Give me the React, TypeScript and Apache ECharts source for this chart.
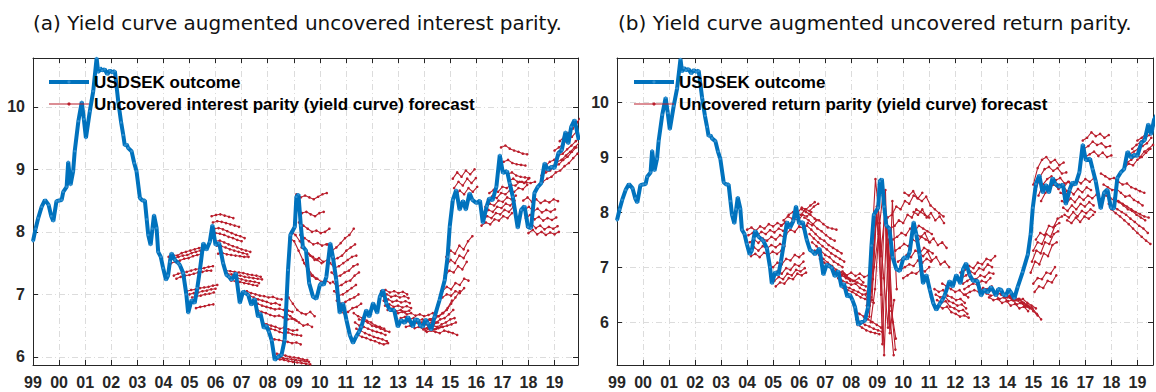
import React, { useEffect, useRef } from "react";
import * as echarts from "echarts";

// Monthly-ish USDSEK outcome: [year, SEK per USD]
const usdsekOutcome: [number, number][] = [
  [1999.0, 7.85], [1999.1, 8.05], [1999.2, 8.22], [1999.33, 8.4], [1999.46, 8.51], [1999.6, 8.43],
  [1999.7, 8.25], [1999.78, 8.17], [1999.9, 8.49], [2000.0, 8.5], [2000.1, 8.51], [2000.16, 8.64],
  [2000.29, 8.72], [2000.35, 9.12], [2000.44, 8.75], [2000.54, 8.97], [2000.6, 9.29], [2000.74, 9.77],
  [2000.87, 10.08], [2000.95, 9.8], [2001.03, 9.5], [2001.18, 9.93], [2001.31, 10.25], [2001.44, 10.78],
  [2001.5, 10.55], [2001.57, 10.62], [2001.65, 10.58], [2001.75, 10.6], [2001.85, 10.52], [2001.95, 10.58],
  [2002.05, 10.55], [2002.14, 10.57], [2002.27, 10.08], [2002.38, 9.75], [2002.46, 9.55], [2002.52, 9.38],
  [2002.59, 9.4], [2002.65, 9.34], [2002.78, 9.29], [2002.88, 9.1], [2002.97, 8.97], [2003.1, 8.54],
  [2003.2, 8.5], [2003.29, 8.5], [2003.36, 8.2], [2003.42, 7.95], [2003.51, 7.79], [2003.58, 8.05],
  [2003.64, 8.27], [2003.74, 8.06], [2003.8, 7.68], [2003.9, 7.6], [2003.99, 7.42], [2004.1, 7.23],
  [2004.18, 7.3], [2004.25, 7.52], [2004.31, 7.66], [2004.44, 7.55], [2004.57, 7.5], [2004.63, 7.47],
  [2004.76, 7.34], [2004.88, 7.0], [2004.95, 6.7], [2005.08, 6.91], [2005.2, 6.86], [2005.3, 7.1],
  [2005.4, 7.39], [2005.53, 7.82], [2005.65, 7.71], [2005.78, 7.84], [2005.88, 8.11], [2006.0, 7.79],
  [2006.14, 7.82], [2006.29, 7.5], [2006.42, 7.31], [2006.52, 7.28], [2006.61, 7.23], [2006.78, 7.34],
  [2006.93, 6.86], [2007.06, 7.05], [2007.15, 7.02], [2007.25, 6.99], [2007.37, 6.83], [2007.5, 6.93],
  [2007.63, 6.64], [2007.72, 6.7], [2007.85, 6.46], [2007.95, 6.5], [2008.05, 6.4], [2008.15, 6.27],
  [2008.27, 5.95], [2008.4, 6.0], [2008.53, 6.03], [2008.65, 6.27], [2008.78, 7.39], [2008.87, 7.95],
  [2009.04, 8.08], [2009.1, 8.56], [2009.18, 8.6], [2009.27, 8.1], [2009.35, 7.76], [2009.47, 7.7],
  [2009.59, 7.18], [2009.74, 6.96], [2009.87, 6.93], [2010.0, 7.15], [2010.06, 7.18], [2010.15, 7.15],
  [2010.25, 7.28], [2010.4, 7.82], [2010.5, 7.6], [2010.63, 7.23], [2010.76, 6.7], [2010.89, 6.86],
  [2011.02, 6.59], [2011.15, 6.35], [2011.27, 6.22], [2011.4, 6.33], [2011.5, 6.4], [2011.59, 6.48],
  [2011.78, 6.75], [2011.9, 6.64], [2012.04, 6.86], [2012.2, 6.7], [2012.3, 6.96], [2012.42, 7.07],
  [2012.55, 6.86], [2012.68, 6.75], [2012.85, 6.75], [2012.99, 6.48], [2013.12, 6.59], [2013.25, 6.54],
  [2013.38, 6.64], [2013.57, 6.48], [2013.65, 6.6], [2013.76, 6.59], [2013.85, 6.5], [2013.95, 6.48],
  [2014.05, 6.6], [2014.14, 6.54], [2014.27, 6.43], [2014.4, 6.64], [2014.59, 6.91], [2014.79, 7.23],
  [2014.9, 7.6], [2014.98, 8.08], [2015.1, 8.51], [2015.23, 8.67], [2015.36, 8.35], [2015.49, 8.5],
  [2015.6, 8.35], [2015.74, 8.62], [2015.85, 8.51], [2016.0, 8.46], [2016.14, 8.5], [2016.25, 8.14],
  [2016.4, 8.41], [2016.5, 8.54], [2016.62, 8.5], [2016.77, 8.72], [2016.9, 9.23], [2017.02, 8.94],
  [2017.18, 8.97], [2017.28, 8.78], [2017.4, 8.56], [2017.59, 8.06], [2017.72, 8.35], [2017.85, 8.41],
  [2017.98, 8.08], [2018.1, 8.06], [2018.23, 8.62], [2018.36, 8.72], [2018.49, 8.78], [2018.62, 9.1],
  [2018.75, 8.99], [2018.88, 9.04], [2019.0, 9.02], [2019.15, 9.26], [2019.28, 9.31], [2019.42, 9.6],
  [2019.53, 9.41], [2019.64, 9.68], [2019.77, 9.79], [2019.93, 9.47],
];

// Forecast paths: [start year, value, value, ...], one value every FORECAST_STEP years
const FORECAST_STEP = 1 / 6;

const uipForecasts: number[][] = [
  [2004.2, 7.6, 7.63, 7.62, 7.66, 7.68, 7.7, 7.72, 7.74, 7.75],
  [2004.25, 7.55, 7.57, 7.6, 7.62, 7.63, 7.66, 7.68, 7.7],
  [2004.3, 7.5, 7.52, 7.54, 7.57, 7.58, 7.61, 7.63, 7.65],
  [2004.4, 7.3, 7.33, 7.35, 7.36, 7.38, 7.4, 7.41, 7.42, 7.44, 7.45],
  [2004.5, 7.25, 7.28, 7.3, 7.31, 7.33, 7.35, 7.36, 7.38, 7.38],
  [2004.9, 7.05, 7.07, 7.08, 7.1, 7.11, 7.12, 7.14, 7.15],
  [2005.0, 7.0, 7.02, 7.03, 7.05, 7.06, 7.08, 7.09],
  [2005.1, 6.95, 6.97, 6.98, 7.0, 7.01, 7.03],
  [2005.25, 6.78, 6.8, 6.81, 6.83, 6.84],
  [2005.85, 8.25, 8.27, 8.28, 8.26, 8.24, 8.22],
  [2005.9, 8.15, 8.17, 8.16, 8.14, 8.12, 8.1, 8.08],
  [2005.95, 8.05, 8.06, 8.04, 8.01, 7.98, 7.95, 7.93, 7.9],
  [2006.0, 7.98, 7.97, 7.95, 7.92, 7.9, 7.87, 7.85],
  [2006.0, 7.85, 7.86, 7.83, 7.8, 7.77, 7.75, 7.72, 7.7, 7.68],
  [2006.05, 7.78, 7.77, 7.75, 7.72, 7.7, 7.68, 7.66, 7.64],
  [2006.1, 7.65, 7.66, 7.64, 7.63, 7.62, 7.61, 7.6, 7.6],
  [2006.4, 7.38, 7.37, 7.36, 7.35, 7.34, 7.32, 7.31, 7.3, 7.28],
  [2006.45, 7.33, 7.32, 7.31, 7.3, 7.28, 7.27, 7.26, 7.25, 7.24],
  [2006.5, 7.28, 7.27, 7.26, 7.24, 7.22, 7.21, 7.2, 7.18],
  [2006.6, 7.22, 7.21, 7.2, 7.18, 7.17, 7.15, 7.14],
  [2007.2, 7.05, 7.02, 7.0, 6.98, 6.97, 6.95, 6.96, 6.93, 6.92],
  [2007.3, 6.98, 6.95, 6.92, 6.9, 6.88, 6.85, 6.86, 6.83],
  [2007.45, 6.88, 6.85, 6.82, 6.8, 6.78, 6.76, 6.77, 6.75, 6.74, 6.72],
  [2007.6, 6.75, 6.72, 6.7, 6.67, 6.65, 6.66, 6.63, 6.6, 6.61, 6.58],
  [2007.8, 6.55, 6.52, 6.5, 6.48, 6.45, 6.47, 6.44, 6.42, 6.43],
  [2007.95, 6.48, 6.45, 6.43, 6.4, 6.38, 6.39, 6.36, 6.35, 6.34],
  [2008.1, 6.3, 6.28, 6.27, 6.25, 6.24, 6.22, 6.23, 6.2],
  [2008.25, 6.02, 6.0, 5.98, 5.97, 5.96, 5.95, 5.94, 5.93, 5.92],
  [2008.3, 5.97, 5.96, 5.95, 5.93, 5.92, 5.91, 5.9, 5.89, 5.88],
  [2008.35, 6.05, 6.04, 6.02, 6.0, 5.99, 5.98, 5.96, 5.95],
  [2008.7, 6.7, 6.65, 6.6, 6.55, 6.5, 6.52, 6.48],
  [2008.8, 6.95, 6.85, 6.75, 6.7, 6.68, 6.72, 6.65],
  [2008.85, 7.9, 7.85, 7.7, 7.55, 7.4, 7.3, 7.25],
  [2008.9, 8.0, 7.95, 7.85, 7.75, 7.65, 7.6, 7.55, 7.5],
  [2009.1, 8.6, 8.55, 8.58, 8.55, 8.52, 8.56, 8.6, 8.62],
  [2009.15, 8.35, 8.3, 8.32, 8.28, 8.25, 8.3, 8.32],
  [2009.2, 8.15, 8.1, 8.05, 8.0, 8.02, 7.98, 8.0, 8.05],
  [2009.25, 7.95, 7.9, 7.85, 7.8, 7.82, 7.78, 7.8],
  [2009.3, 7.75, 7.7, 7.62, 7.55, 7.58, 7.52, 7.55],
  [2009.4, 7.5, 7.4, 7.3, 7.25, 7.2, 7.22, 7.18],
  [2010.3, 7.8, 7.7, 7.75, 7.82, 7.9, 7.95, 8.05],
  [2010.35, 7.65, 7.55, 7.58, 7.62, 7.7, 7.75, 7.8],
  [2010.4, 7.5, 7.42, 7.45, 7.5, 7.55, 7.6, 7.62],
  [2010.45, 7.35, 7.28, 7.3, 7.35, 7.38, 7.45, 7.48],
  [2010.5, 7.2, 7.12, 7.15, 7.2, 7.22, 7.3, 7.35],
  [2010.55, 7.05, 6.98, 7.0, 7.05, 7.1, 7.15],
  [2010.65, 6.9, 6.85, 6.88, 6.92, 6.95, 7.0],
  [2010.75, 6.75, 6.7, 6.72, 6.78, 6.8, 6.85],
  [2011.3, 6.7, 6.65, 6.62, 6.58, 6.55, 6.5, 6.48, 6.45],
  [2011.35, 6.55, 6.5, 6.48, 6.45, 6.42, 6.4, 6.38, 6.35],
  [2011.4, 6.45, 6.42, 6.38, 6.35, 6.32, 6.3, 6.28, 6.25],
  [2011.45, 6.35, 6.32, 6.3, 6.27, 6.25, 6.22, 6.2, 6.22],
  [2011.5, 6.6, 6.58, 6.55, 6.5, 6.48, 6.45, 6.42, 6.4],
  [2012.35, 7.05, 7.07, 7.03, 7.05, 7.02, 7.04, 7.0],
  [2012.4, 6.98, 7.0, 6.96, 6.98, 6.95, 6.97, 6.94],
  [2012.45, 6.9, 6.92, 6.88, 6.9, 6.87, 6.89, 6.86],
  [2012.5, 6.82, 6.84, 6.8, 6.82, 6.79, 6.81, 6.78],
  [2012.6, 6.75, 6.77, 6.73, 6.75, 6.72, 6.74],
  [2013.0, 6.7, 6.72, 6.68, 6.7, 6.66, 6.68, 6.65, 6.67, 6.7],
  [2013.1, 6.62, 6.64, 6.6, 6.62, 6.58, 6.6, 6.57, 6.59, 6.62],
  [2013.2, 6.55, 6.57, 6.53, 6.55, 6.51, 6.53, 6.5, 6.52, 6.55],
  [2013.3, 6.48, 6.5, 6.46, 6.48, 6.44, 6.46, 6.43, 6.45, 6.48],
  [2013.9, 6.55, 6.58, 6.6, 6.62, 6.65, 6.7, 6.78, 6.9],
  [2013.95, 6.5, 6.52, 6.55, 6.55, 6.6, 6.62, 6.68, 6.75],
  [2014.0, 6.45, 6.48, 6.5, 6.48, 6.52, 6.55, 6.6, 6.62],
  [2014.05, 6.42, 6.45, 6.44, 6.46, 6.48, 6.5, 6.52, 6.55],
  [2014.1, 6.4, 6.42, 6.4, 6.38, 6.42, 6.4, 6.38, 6.35],
  [2014.2, 6.6, 6.62, 6.65, 6.7, 6.75, 6.85, 6.95, 7.05],
  [2014.85, 7.6, 7.7, 7.65, 7.78, 7.72, 7.85, 7.93],
  [2014.85, 7.45, 7.55, 7.5, 7.62, 7.58, 7.7],
  [2014.8, 7.3, 7.38, 7.35, 7.45, 7.4, 7.52],
  [2014.7, 7.05, 7.12, 7.08, 7.18, 7.15, 7.25, 7.22],
  [2014.7, 6.95, 7.0, 6.98, 7.05, 7.02, 7.1],
  [2015.1, 8.85, 8.95, 8.88, 8.98, 8.92, 9.0],
  [2015.15, 8.7, 8.8, 8.74, 8.85, 8.78, 8.86],
  [2015.2, 8.58, 8.66, 8.6, 8.7, 8.64, 8.72],
  [2016.2, 8.1, 8.15, 8.12, 8.2, 8.18, 8.25, 8.22, 8.3],
  [2016.25, 8.2, 8.25, 8.22, 8.3, 8.28, 8.35, 8.32, 8.4],
  [2016.3, 8.3, 8.35, 8.32, 8.4, 8.38, 8.45, 8.42, 8.5],
  [2016.35, 8.4, 8.45, 8.42, 8.5, 8.48, 8.55, 8.52, 8.58],
  [2016.45, 8.52, 8.57, 8.54, 8.62, 8.6, 8.66, 8.64, 8.7, 8.68, 8.75],
  [2016.5, 8.62, 8.67, 8.64, 8.72, 8.7, 8.75, 8.74, 8.8, 8.78, 8.85],
  [2016.95, 9.35, 9.38, 9.33, 9.3, 9.28, 9.25, 9.24],
  [2017.05, 9.12, 9.15, 9.1, 9.08, 9.07, 9.06],
  [2017.2, 8.92, 8.95, 8.9, 8.88, 8.87, 8.86],
  [2017.25, 8.82, 8.85, 8.8, 8.8, 8.79, 8.78, 8.8],
  [2017.8, 8.5, 8.55, 8.48, 8.52, 8.46, 8.5, 8.47, 8.52, 8.49],
  [2017.85, 8.35, 8.4, 8.33, 8.37, 8.31, 8.35, 8.32, 8.36],
  [2017.9, 8.22, 8.27, 8.2, 8.24, 8.18, 8.22, 8.19, 8.23],
  [2017.95, 8.08, 8.13, 8.06, 8.1, 8.04, 8.08, 8.05, 8.09],
  [2018.0, 7.98, 8.03, 7.96, 8.0, 7.95, 7.99, 7.96, 8.0],
  [2018.5, 8.9, 8.95, 8.98, 9.05, 9.08, 9.15, 9.2, 9.28, 9.35],
  [2018.55, 8.8, 8.85, 8.88, 8.95, 8.98, 9.05, 9.1, 9.18, 9.25],
  [2018.6, 8.95, 9.02, 9.05, 9.12, 9.15, 9.22, 9.28, 9.35, 9.42],
  [2018.65, 9.05, 9.12, 9.15, 9.22, 9.25, 9.32, 9.38, 9.45, 9.5],
  [2019.0, 9.3, 9.35, 9.4, 9.48, 9.52, 9.6],
  [2019.2, 9.45, 9.52, 9.58, 9.65, 9.75, 9.85],
];

const urpForecasts: number[][] = [
  [2004.0, 7.68, 7.72, 7.66, 7.74, 7.7, 7.78, 7.74, 7.8, 7.76, 7.82],
  [2004.05, 7.58, 7.62, 7.57, 7.64, 7.6, 7.67, 7.63, 7.7, 7.66],
  [2004.1, 7.45, 7.5, 7.44, 7.52, 7.48, 7.55, 7.5, 7.58, 7.54],
  [2004.1, 7.32, 7.36, 7.3, 7.38, 7.34, 7.4, 7.36, 7.42, 7.38],
  [2004.15, 7.2, 7.24, 7.18, 7.26, 7.22, 7.28, 7.24, 7.3],
  [2005.0, 6.85, 6.92, 6.88, 6.98, 6.95, 7.05, 7.02, 7.1],
  [2005.05, 6.75, 6.82, 6.78, 6.88, 6.85, 6.95, 6.92, 6.98],
  [2005.1, 6.65, 6.72, 6.7, 6.8, 6.78, 6.88, 6.85, 6.9],
  [2005.0, 7.0, 7.08, 7.05, 7.15, 7.12, 7.22, 7.18, 7.25],
  [2005.3, 7.75, 7.82, 7.78, 7.88, 7.85, 7.95, 7.92, 8.0],
  [2005.4, 7.85, 7.92, 7.88, 7.98, 7.95, 8.05, 8.02, 8.1, 8.15],
  [2005.5, 7.6, 7.68, 7.64, 7.74, 7.7, 7.8, 7.76, 7.85],
  [2005.6, 7.95, 8.0, 7.98, 8.08, 8.05, 8.12, 8.18],
  [2006.1, 8.05, 8.0, 7.95, 7.88, 7.85, 7.78, 7.72, 7.7, 7.68],
  [2006.2, 7.9, 7.85, 7.78, 7.7, 7.65, 7.58, 7.52, 7.48],
  [2006.3, 7.75, 7.68, 7.6, 7.52, 7.48, 7.4, 7.35, 7.3, 7.25],
  [2006.4, 7.6, 7.52, 7.45, 7.38, 7.32, 7.25, 7.2, 7.15, 7.1],
  [2006.5, 7.45, 7.38, 7.3, 7.22, 7.18, 7.1, 7.05, 7.0],
  [2006.6, 7.3, 7.22, 7.15, 7.08, 7.02, 6.95, 6.9, 6.85],
  [2006.8, 7.15, 7.08, 7.02, 6.95, 6.9, 6.85, 6.8, 6.75],
  [2007.3, 6.95, 6.9, 6.85, 6.82, 6.78, 6.75, 6.8, 6.72],
  [2007.4, 6.9, 6.85, 6.88, 6.8, 6.75, 6.72, 6.68, 6.65],
  [2007.5, 6.8, 6.75, 6.72, 6.68, 6.7, 6.62, 6.58, 6.55],
  [2007.6, 6.7, 6.65, 6.62, 6.58, 6.55, 6.5, 6.52, 6.45],
  [2007.7, 6.62, 6.58, 6.55, 6.5, 6.45, 6.42, 6.38, 6.35],
  [2007.5, 6.88, 6.92, 6.85, 6.9, 6.84, 6.88, 6.82, 6.85, 6.78],
  [2008.15, 6.2, 6.15, 6.1, 6.05, 6.0, 5.95, 5.9],
  [2008.2, 6.05, 6.0, 5.95, 5.92, 5.88, 5.85, 5.82],
  [2008.25, 5.95, 5.9, 5.85, 5.82, 5.8, 5.78],
  [2008.6, 6.3, 7.2, 8.6, 7.8, 5.4, 7.5, 6.0],
  [2008.65, 6.2, 6.9, 8.1, 6.5, 8.4, 5.8, 6.4],
  [2008.7, 6.1, 7.4, 8.3, 5.6, 7.9, 6.3, 5.5],
  [2008.75, 6.0, 6.6, 7.8, 6.8, 5.9, 8.2, 6.6],
  [2008.8, 6.4, 7.9, 7.2, 8.0, 6.2, 5.4],
  [2008.55, 6.5, 6.3, 7.0, 7.6, 8.3, 7.4, 6.2, 5.7],
  [2009.4, 7.9, 7.95, 8.1, 8.05, 8.2, 8.15, 8.3, 8.25, 8.35],
  [2009.5, 7.7, 7.75, 7.85, 7.8, 7.95, 7.9, 8.05, 8.0, 7.95, 7.9],
  [2009.6, 7.5, 7.55, 7.62, 7.58, 7.7, 7.65, 7.75, 7.7, 7.65, 7.6],
  [2009.7, 7.3, 7.35, 7.42, 7.38, 7.5, 7.45, 7.55, 7.5, 7.45],
  [2009.8, 7.1, 7.15, 7.22, 7.18, 7.3, 7.25, 7.35, 7.3, 7.25],
  [2009.9, 6.95, 7.0, 7.05, 7.02, 7.12, 7.08, 7.15, 7.1],
  [2010.0, 6.8, 6.85, 6.9, 6.88, 6.95, 6.92, 7.0],
  [2010.4, 8.0, 7.95, 8.05, 7.9, 7.98, 7.85, 7.92, 7.8],
  [2010.5, 7.6, 7.55, 7.62, 7.45, 7.52, 7.4, 7.45, 7.35],
  [2010.6, 7.25, 7.2, 7.28, 7.12, 7.18, 7.05, 7.1, 7.0],
  [2010.05, 8.35, 8.3, 8.38, 8.25, 8.2, 8.28, 8.12, 8.05, 7.98, 7.92],
  [2011.2, 6.6, 6.55, 6.58, 6.48, 6.45, 6.4, 6.42, 6.35],
  [2011.25, 6.5, 6.45, 6.48, 6.38, 6.35, 6.3, 6.32, 6.25],
  [2011.3, 6.4, 6.35, 6.38, 6.28, 6.25, 6.2, 6.22, 6.15],
  [2011.35, 6.3, 6.25, 6.28, 6.18, 6.15, 6.1, 6.12, 6.08],
  [2011.5, 6.7, 6.65, 6.6, 6.55, 6.58, 6.5, 6.45],
  [2012.2, 6.9, 6.95, 7.02, 6.98, 7.08, 7.05, 7.15, 7.12, 7.2],
  [2012.25, 6.8, 6.85, 6.92, 6.88, 6.98, 6.95, 7.05, 7.0],
  [2012.3, 6.7, 6.75, 6.8, 6.78, 6.85, 6.82, 6.9, 6.88],
  [2012.35, 6.6, 6.65, 6.7, 6.68, 6.75, 6.72, 6.8],
  [2012.4, 6.5, 6.55, 6.58, 6.55, 6.62, 6.6, 6.65],
  [2013.1, 6.6, 6.55, 6.58, 6.5, 6.52, 6.45, 6.48, 6.4, 6.42, 6.35, 6.3],
  [2013.2, 6.52, 6.48, 6.5, 6.42, 6.45, 6.38, 6.4, 6.32, 6.35, 6.28, 6.25],
  [2013.3, 6.45, 6.4, 6.42, 6.35, 6.38, 6.3, 6.33, 6.25, 6.28, 6.2],
  [2013.6, 6.55, 6.5, 6.52, 6.45, 6.48, 6.4, 6.42, 6.35, 6.3, 6.25],
  [2013.8, 6.5, 6.48, 6.45, 6.4, 6.42, 6.35, 6.3, 6.25, 6.15, 6.05],
  [2014.0, 6.45, 6.42, 6.4, 6.35, 6.3, 6.28, 6.2, 6.12],
  [2014.9, 6.9, 7.1, 7.05, 7.25, 7.2, 7.4, 7.45],
  [2014.95, 7.1, 7.3, 7.25, 7.45, 7.42, 7.6, 7.65],
  [2015.0, 7.3, 7.45, 7.42, 7.6, 7.55, 7.75, 7.8],
  [2015.0, 6.7, 6.8, 6.78, 6.9, 6.88, 7.0],
  [2015.05, 6.55, 6.65, 6.62, 6.75, 6.72, 6.85],
  [2015.1, 7.5, 7.62, 7.58, 7.75, 7.72, 7.88, 7.92],
  [2015.0, 8.5, 8.8, 8.95, 9.0, 8.9, 8.95, 8.85, 8.9],
  [2015.1, 8.4, 8.65, 8.78, 8.82, 8.75, 8.8, 8.7, 8.72],
  [2015.2, 8.3, 8.5, 8.6, 8.65, 8.58, 8.62, 8.52, 8.55],
  [2015.3, 8.2, 8.35, 8.45, 8.5, 8.42, 8.48, 8.38],
  [2016.0, 8.5, 8.45, 8.55, 8.48, 8.58, 8.52, 8.6, 8.55, 8.62],
  [2016.05, 8.35, 8.3, 8.4, 8.32, 8.42, 8.36, 8.45, 8.4],
  [2016.1, 8.2, 8.15, 8.25, 8.18, 8.28, 8.22, 8.3, 8.25, 8.32],
  [2016.15, 8.08, 8.02, 8.12, 8.05, 8.15, 8.1, 8.18, 8.12],
  [2016.2, 7.95, 7.9, 8.0, 7.92, 8.02, 7.98, 8.05, 8.0],
  [2016.3, 7.85, 7.8, 7.9, 7.82, 7.92, 7.88, 7.95],
  [2016.9, 9.3, 9.35, 9.45, 9.38, 9.42, 9.35, 9.4],
  [2016.95, 9.15, 9.2, 9.28, 9.22, 9.25, 9.18, 9.2],
  [2017.0, 9.0, 9.05, 9.1, 9.02, 9.08, 9.0, 9.03],
  [2017.6, 8.7, 8.65, 8.6, 8.62, 8.55, 8.5, 8.52, 8.45, 8.42, 8.38, 8.35],
  [2017.7, 8.5, 8.45, 8.4, 8.42, 8.35, 8.28, 8.3, 8.22, 8.18, 8.12],
  [2017.8, 8.3, 8.25, 8.2, 8.18, 8.12, 8.05, 8.02, 7.95, 7.9, 7.85],
  [2017.9, 8.15, 8.1, 8.05, 8.0, 7.95, 7.88, 7.82, 7.75, 7.7, 7.62],
  [2018.0, 8.05, 7.98, 7.92, 7.85, 7.78, 7.7, 7.62, 7.55, 7.48, 7.42],
  [2018.1, 8.25, 8.2, 8.15, 8.1, 8.05, 8.0, 7.96, 7.92, 7.9],
  [2018.5, 8.8, 8.88, 8.85, 8.95, 9.0, 9.08, 9.15],
  [2018.6, 8.9, 8.95, 9.02, 9.0, 9.1, 9.15, 9.22],
  [2018.7, 9.05, 9.1, 9.15, 9.2, 9.25, 9.35],
  [2018.8, 9.15, 9.22, 9.28, 9.35, 9.4, 9.5],
  [2019.0, 9.3, 9.35, 9.42, 9.5, 9.58],
];

const panelTitles = [
  "(a) Yield curve augmented uncovered interest parity.",
  "(b) Yield curve augmented uncovered return parity.",
];
const outcomeName = "USDSEK outcome";
const forecastNames = [
  "Uncovered interest parity (yield curve) forecast",
  "Uncovered return parity (yield curve) forecast",
];
const xRanges: [number, number][] = [[1999, 2019.9], [1999, 2019.6]];
const yRanges: [number, number][] = [[5.87, 10.78], [5.22, 10.8]];

const BLUE = "#0072BD";
const BLUE_DOT = "#2f8fd0";
const RED = "#BA1E2C";
const AXIS = "#262626";
const TICK_FONT = "'Liberation Sans', Arial, Helvetica, sans-serif";

function toPath(f: number[]): [number, number][] {
  const start = f[0];
  return f.slice(1).map((v, i) => [start + i * FORECAST_STEP, v]);
}

export default function App() {
  const ref = useRef<HTMLDivElement>(null);
  useEffect(() => {
    if (!ref.current) return;
    const chart = echarts.init(ref.current, null, { renderer: "svg" });
    const grids = [
      { left: 33, top: 58, width: 545, height: 307 },
      { left: 617, top: 58, width: 538, height: 307 },
    ];
    const splitStyle = { color: "#dcdcdc", width: 1, type: [6, 3, 1, 3] as any };
    const xAxis: any[] = [];
    const yAxis: any[] = [];
    [0, 1].forEach((p) => {
      xAxis.push({
        type: "value", gridIndex: p, position: "bottom", min: xRanges[p][0], max: xRanges[p][1], interval: 1,
        axisLine: { show: true, onZero: false, lineStyle: { color: AXIS, width: 1 } },
        axisTick: { show: true, inside: true, length: 5, lineStyle: { color: AXIS } },
        axisLabel: {
          show: true, margin: 9, color: AXIS, fontSize: 16, fontWeight: "bold", fontFamily: TICK_FONT,
          formatter: (v: number) => (Math.abs(v - Math.round(v)) < 1e-6 ? String(Math.round(v) % 100).padStart(2, "0") : ""),
        },
        splitLine: { show: true, lineStyle: splitStyle },
      });
      xAxis.push({
        type: "value", gridIndex: p, position: "top", min: xRanges[p][0], max: xRanges[p][1], interval: 1,
        axisLine: { show: true, onZero: false, lineStyle: { color: AXIS, width: 1 } },
        axisTick: { show: true, inside: true, length: 5, lineStyle: { color: AXIS } },
        axisLabel: { show: false },
        splitLine: { show: false },
      });
      yAxis.push({
        type: "value", gridIndex: p, position: "left", min: yRanges[p][0], max: yRanges[p][1], splitNumber: 5,
        axisLine: { show: true, onZero: false, lineStyle: { color: AXIS, width: 1 } },
        axisTick: { show: true, inside: true, length: 5, lineStyle: { color: AXIS } },
        axisLabel: {
          show: true, margin: 8, color: AXIS, fontSize: 16, fontWeight: "bold", fontFamily: TICK_FONT,
          formatter: (v: number) => (Math.abs(v - Math.round(v)) < 1e-6 ? String(Math.round(v)) : ""),
        },
        splitLine: { show: true, lineStyle: splitStyle },
      });
      yAxis.push({
        type: "value", gridIndex: p, position: "right", min: yRanges[p][0], max: yRanges[p][1], splitNumber: 5,
        axisLine: { show: true, onZero: false, lineStyle: { color: AXIS, width: 1 } },
        axisTick: { show: true, inside: true, length: 5, lineStyle: { color: AXIS } },
        axisLabel: { show: false },
        splitLine: { show: false },
      });
    });

    const series: any[] = [];
    [uipForecasts, urpForecasts].forEach((set, p) => {
      set.forEach((f) => {
        series.push({
          type: "line", name: forecastNames[p], xAxisIndex: p * 2, yAxisIndex: p * 2,
          data: toPath(f), symbol: "circle", symbolSize: 2.6, showSymbol: true,
          lineStyle: { color: RED, width: 1.1 }, itemStyle: { color: RED, borderWidth: 0 }, silent: true, z: 2,
        });
      });
    });
    [0, 1].forEach((p) => {
      series.push({
        type: "line", name: outcomeName, xAxisIndex: p * 2, yAxisIndex: p * 2,
        data: usdsekOutcome, symbol: "circle", symbolSize: 2.5, showSymbol: true,
        lineStyle: { color: BLUE, width: 4 }, itemStyle: { color: BLUE_DOT, borderWidth: 0 }, silent: true, z: 3,
      });
    });

    const legendText = { color: "#000", fontSize: 17, fontWeight: "bold", fontFamily: TICK_FONT, lineHeight: 20 };
    const legendCommon = { orient: "vertical", itemWidth: 40, itemHeight: 4, itemGap: 2, padding: 0, textStyle: legendText, selectedMode: false };
    const legendData = (p: number) => [
      { name: outcomeName, lineStyle: { width: 4, color: BLUE }, itemStyle: { color: BLUE_DOT, borderWidth: 0 } },
      { name: forecastNames[p], lineStyle: { width: 1.2, color: RED }, itemStyle: { color: RED, borderWidth: 0 } },
    ];
    chart.setOption({
      animation: false,
      backgroundColor: "#ffffff",
      title: [
        { text: panelTitles[0], left: 28, top: 8, textStyle: { fontSize: 20, fontWeight: "normal", color: "#111", fontFamily: "'DejaVu Sans', sans-serif" } },
        { text: panelTitles[1], left: 613, top: 8, textStyle: { fontSize: 20, fontWeight: "normal", color: "#111", fontFamily: "'DejaVu Sans', sans-serif" } },
      ],
      grid: grids,
      xAxis,
      yAxis,
      legend: [
        { ...legendCommon, data: legendData(0), left: 47, top: 72 },
        { ...legendCommon, data: legendData(1), left: 632, top: 72 },
      ],
      series,
    });
    return () => chart.dispose();
  }, []);
  return <div ref={ref} style={{ position: "absolute", left: 0, top: 0, width: 1156, height: 392, background: "#fff" }} />;
}
